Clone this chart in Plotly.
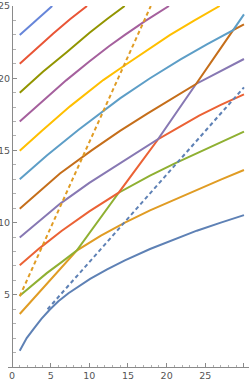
import plotly.graph_objects as go

# ---- data (x, y) ----
# rank 1 (blue)
blue_x = [1, 1.5, 1.9, 2.8, 3.8, 4.9, 6, 7.3, 8.7, 10.1, 12.3, 14.6, 17.85, 21, 23.9, 27, 30]
blue_y = [1.12, 1.64, 2.0, 2.64, 3.33, 3.98, 4.55, 5.11, 5.63, 6.1, 6.76, 7.38, 8.17, 8.86, 9.44, 10.0, 10.52]
# rank 2 (orange)
orange_x = [1, 4.9, 8.37, 11.5, 14.6, 17.85, 21, 24, 27, 30]
orange_y = [3.67, 6.0, 8.06, 9.1, 10.0, 10.85, 11.6, 12.3, 12.98, 13.64]
# rank 3 (green)
green_x = [1, 2.5, 4.5, 6.5, 8.37, 13.8, 17.85, 21, 24.7, 27.5, 30]
green_y = [4.93, 5.63, 6.5, 7.3, 8.06, 12.07, 13.25, 14.08, 15.0, 15.68, 16.3]
# rank 4 (red)
red_x = [1, 3.5, 6.4, 10, 13.8, 18.9, 21.5, 24.26, 27, 30]
red_y = [7.05, 8.2, 9.42, 10.78, 12.07, 15.78, 16.58, 17.42, 18.15, 18.88]
# rank 5 (lavender)
lavender_x = [1, 3.5, 6.2, 10, 13.5, 16.55, 18.9, 23.8, 27, 30]
lavender_y = [8.97, 10.1, 11.3, 12.75, 13.95, 15.0, 15.78, 19.6, 20.5, 21.33]
# rank 6 (brown)
brown_x = [1, 3.5, 6.2, 10.3, 13.97, 17.5, 21, 23.8, 28.6, 30]
brown_y = [10.96, 12.15, 13.4, 15.0, 16.35, 17.55, 18.7, 19.6, 23.33, 23.72]
# rank 7 (light blue)
lightblue_x = [1, 4.5, 8.57, 13.97, 17.8, 21.8, 25.2, 28.6, 30]
lightblue_y = [13.0, 14.65, 16.41, 18.6, 19.98, 21.3, 22.35, 23.33, 24.42]
# rank 8 (yellow)
yellow_x = [1, 3.84, 7.5, 11.8, 14.6, 17.5, 20.4, 23.6, 26.85]
yellow_y = [14.97, 16.35, 18.05, 19.87, 20.9, 21.95, 22.98, 24.0, 25.0]
# rank 9 (magenta)
magenta_x = [1, 4, 7, 10, 12.5, 14.6, 17.2, 20.3]
magenta_y = [17.0, 18.45, 19.85, 21.15, 22.2, 23.0, 23.95, 25.0]
# rank 10 (olive)
olive_x = [1, 4, 7.07, 10.03, 12.3, 14.57]
olive_y = [19.0, 20.45, 21.8, 23.15, 24.1, 25.0]
# rank 11 (red 2)
red2_x = [1, 3, 5.34, 7.5, 9.7]
red2_y = [21.0, 21.97, 23.1, 24.08, 25.0]
# rank 12 (blue 2)
blue2_x = [1, 3.1, 5.2]
blue2_y = [23.0, 24.02, 25.0]
# dashed lines
dash_blue_x = [4.6, 17.85, 30]
dash_blue_y = [4.0, 12.03, 19.37]
dash_orange_x = [1, 9.5, 17.95]
dash_orange_y = [4.9, 14.98, 25.0]

x_ticks = [0, 5, 10, 15, 20, 25, 30]
y_ticks = [5, 10, 15, 20, 25]

solid = [
    ("#5E81B5", blue_x, blue_y),
    ("#E09C24", orange_x, orange_y),
    ("#8FB032", green_x, green_y),
    ("#EB6235", red_x, red_y),
    ("#8778B3", lavender_x, lavender_y),
    ("#C56E1A", brown_x, brown_y),
    ("#5D9EC7", lightblue_x, lightblue_y),
    ("#FFBF00", yellow_x, yellow_y),
    ("#A5609D", magenta_x, magenta_y),
    ("#929500", olive_x, olive_y),
    ("#E95536", red2_x, red2_y),
    ("#6685D9", blue2_x, blue2_y),
]
dashed = [
    ("#5E81B5", dash_blue_x, dash_blue_y),
    ("#E09C24", dash_orange_x, dash_orange_y),
]

fig = go.Figure()
for c, xs, ys in solid:
    fig.add_trace(go.Scatter(x=xs, y=ys, mode="lines",
                             line=dict(color=c, width=2), hoverinfo="skip"))
for c, xs, ys in dashed:
    fig.add_trace(go.Scatter(x=xs, y=ys, mode="lines",
                             line=dict(color=c, width=2, dash="4px,3px"), hoverinfo="skip"))

axis_col = "#8a8a8a"
font = dict(family="DejaVu Sans", size=9.5, color="#555555")
fig.update_layout(
    template="none",
    width=249, height=382,
    margin=dict(l=8, r=0, t=6, b=15, pad=0, autoexpand=False),
    paper_bgcolor="white", plot_bgcolor="white",
    showlegend=False,
    xaxis=dict(range=[-0.517, 30.65], tickvals=x_ticks, ticks="inside", ticklen=4,
               tickcolor=axis_col, showline=True, linecolor=axis_col, linewidth=1,
               showgrid=False, zeroline=False, tickfont=font, automargin=False,
               minor=dict(dtick=1, tick0=0, ticks="inside", ticklen=2.5, tickcolor="#b0b0b0", showgrid=False)),
    yaxis=dict(range=[0, 25], tickvals=y_ticks, ticks="inside", ticklen=4,
               tickcolor=axis_col, showline=True, linecolor=axis_col, linewidth=1,
               showgrid=False, zeroline=False, tickfont=font, automargin=False,
               anchor="free", position=4 / 241,
               minor=dict(dtick=1, tick0=0, ticks="inside", ticklen=2.5, tickcolor="#b0b0b0", showgrid=False)),
)
fig.write_html("out.html", config={"displayModeBar": False},
               post_script="document.body.style.margin='0';document.body.style.overflow='hidden';")
